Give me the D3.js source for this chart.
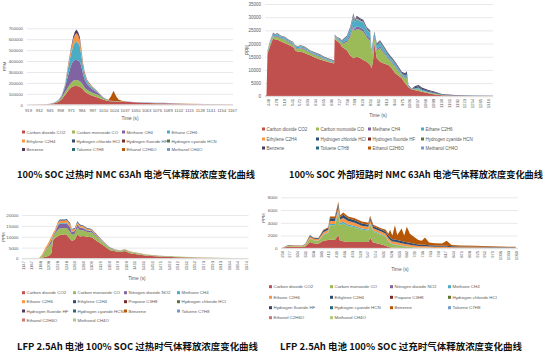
<!DOCTYPE html>
<html><head><meta charset="utf-8">
<script src="https://cdn.jsdelivr.net/npm/d3@7"></script>
<style>body{margin:0;background:#fff}svg{display:block}</style>
</head><body>
<svg id="c" width="550" height="354"></svg>
<script>
// ---------- shared ----------
const palette = ["#C0504D","#9BBB59","#8064A2","#4BACC6","#F79646","#2C4D75","#772C2A","#5F7530","#4D3B62","#276A7C","#B65708","#729ACA","#CD7371","#AFC97A"];
const namesNMC = ["Carbon dioxide CO2","Carbon monoxide CO","Methane CH4","Ethane C2H6","Ethylene C2H4","Hydrogen chloride HCl","Hydrogen fluoride HF","Hydrogen cyanide HCN","Benzene","Toluene C7H8","Ethanol C2H6O","Methanol CH4O"];
const namesLFP = ["Carbon dioxide CO2","Carbon monoxide CO","Nitrogen dioxide NO2","Methane CH4","Ethane C2H6","Ethylene C2H4","Propane C3H8","Hydrogen chloride HCl","Hydrogen fluoride HF","Hydrogen cyanide HCN","Benzene","Toluene C7H8","Ethanol C2H6O","Methanol CH4O"];

// ---------- chart 1 : NMC 63Ah overheating ----------
const c1XLabels = [919,932,945,958,971,984,997,1010,1024,1037,1050,1063,1076,1089,1102,1115,1128,1141,1154,1167];
const c1YTicks = [0,100000,200000,300000,400000,500000,600000,700000];
const c1Time = [915,930,940,946,951,956,960,964,968,971,974,976,978,980,982,984,986,988,991,995,998,1002,1006,1010,1014,1017,1020,1023,1026,1029,1033,1039,1047,1055,1065,1075,1085,1095,1107,1120,1135,1150,1168];
const c1CO2 = [400,1200,3000,6000,13000,25000,50000,90000,130000,155000,170000,172000,172000,170000,165000,155000,140000,120000,105000,90000,80000,70000,60000,48000,38000,33000,31000,30000,29000,28000,27000,26000,22000,18000,15000,14000,13000,11000,9500,7000,4800,3200,1600];
const c1CO = [50,150,500,1500,3500,8000,15000,25000,35000,42000,50000,52000,54000,52000,50000,46000,40000,34000,30000,28000,28000,26000,22000,12000,7000,4000,3000,2500,2500,2000,1800,1500,1200,1000,800,700,600,500,400,300,200,150,100];
const c1CH4 = [30,100,300,800,2000,6000,15000,45000,110000,160000,180000,185000,184000,182000,180000,145000,100000,75000,50000,38000,30000,22000,13000,7000,3000,2000,1500,1200,1000,900,800,700,600,500,400,300,300,200,200,150,100,50,50];
const c1C2H6 = [10,30,100,300,800,3000,6000,18000,70000,100000,140000,160000,168000,160000,140000,100000,60000,40000,25000,16000,12000,9000,6000,4000,2000,1200,800,600,500,400,400,300,300,200,200,150,150,100,100,80,50,30,20];
const c1C2H4 = [5,10,50,200,500,1000,3000,8000,25000,38000,60000,70000,78000,70000,60000,40000,25000,18000,10000,8000,6000,5000,3000,1500,1000,600,400,300,300,200,200,200,150,100,100,100,100,80,60,50,30,20,10];
const c1HCl = [], c1HF = [], c1HCN = [], c1Toluene = []; // ~0 throughout
const c1Benzene = [0,0,20,100,200,300,800,2000,10000,15000,25000,29000,34000,30000,25000,18000,15000,10000,6000,5000,4000,3000,1000,500,300,200,150,100,100,100,100,100,100,100,100,100,100,80,60,50,30,20,10];
const c1Ethanol = [0,0,0,0,0,0,0,0,0,0,0,0,0,0,0,0,0,0,0,0,0,0,0,0,0,4000,43000,93000,46000,16000,5000,1000,0,0,0,0,0,0,0,0,0,0,0];
const c1Methanol = [0,0,0,0,0,0,0,0,0,0,0,0,0,0,0,0,0,0,0,0,0,0,0,0,0,0,0,0,0,0,0,0,1500,2000,2500,3000,3000,2000,1500,1000,600,300,100];

// ---------- chart 2 : NMC 63Ah external short ----------
const c2XLabels = [448,479,510,541,572,603,634,665,696,727,758,789,820,851,882,913,944,975,1006,1037,1068,1099,1130,1161,1192,1223,1254,1285,1316];
const c2YTicks = [0,5000,10000,15000,20000,25000,30000,35000];
const c2Time = [436,442,446,456,468,476,484,500,515,527,540,547,555,566,574,585,594,614,630,653,670,685,705,709,711,720,732,739,759,772,785,791,798,811,824,838,851,857,863,868,877,890,903,923,936,950,976,989,996,1002,1015,1029,1042,1055,1081,1107,1134,1186,1265,1338];
const c2CO2 = [0,400,16000,19000,22000,21500,21500,20800,20100,19600,19000,18800,17500,16800,17000,16700,16300,15600,14800,14000,13500,13000,12500,12400,21800,21000,20000,18800,17500,15600,14400,14700,15000,14500,13750,13100,12000,10600,14000,20100,14400,13100,12500,11900,10600,8700,6800,4900,4200,3400,2600,2300,2000,1700,1200,700,400,200,100,50];
const c2CO = [0,20,350,850,900,800,1200,1000,1300,850,850,750,750,1050,1250,1350,1350,850,950,850,550,450,350,300,600,500,900,1050,3050,6900,11950,9900,10550,10700,10850,9200,9100,4550,5050,1950,2950,5250,4150,2200,2100,2300,800,1800,2800,200,50,350,700,350,270,220,80,50,40,20];
const c2CH4 = [0,20,300,300,350,300,350,300,300,300,300,300,300,300,300,300,300,250,250,250,200,200,200,200,250,250,300,400,600,800,1000,900,1000,900,900,800,800,500,600,500,500,600,500,400,400,400,300,300,400,100,50,100,150,100,50,50,20,10,10,10];
const c2C2H6 = [0,30,500,500,600,550,600,550,550,500,500,500,500,500,500,500,500,450,450,450,400,400,350,350,400,400,450,600,1200,2000,3000,2500,2800,2500,2500,2200,2200,1200,1500,1300,1300,1500,1400,1000,900,900,600,700,900,200,100,300,400,300,200,150,80,50,30,20];
const c2C2H4 = [0,10,100,100,100,100,100,100,100,100,100,100,100,100,100,100,100,100,100,100,100,100,100,100,100,100,100,100,150,200,250,200,250,200,200,200,200,150,150,150,150,150,150,100,100,100,100,100,100,50,20,50,50,50,30,30,20,10,10,10];
const c2HCl = [0,10,150,150,150,150,150,150,150,150,150,150,150,150,150,150,150,150,150,150,150,150,150,150,150,150,150,200,300,400,500,450,500,450,450,400,400,300,400,350,400,400,400,400,400,400,400,500,600,200,100,400,500,400,300,250,150,80,50,40];
const c2HF = [], c2HCN = [], c2Toluene = [], c2Ethanol = [], c2Methanol = []; // ~0
const c2Benzene = [0,10,100,100,100,100,100,100,100,100,100,100,100,100,100,100,100,100,100,100,100,100,100,100,100,100,100,150,200,300,400,350,400,350,350,300,300,200,300,250,300,300,300,300,300,300,300,400,500,150,80,400,500,400,350,300,150,100,60,50];

// ---------- chart 3 : LFP 2.5Ah overheating ----------
const c3XLabels = [1147,1167,1188,1208,1228,1248,1269,1289,1309,1329,1350,1370,1390,1411,1431,1451,1471,1492,1512,1532,1552,1573,1593,1613,1634,1654,1674];
const c3YTicks = [0,5000,10000,15000,20000];
const c3Time = [1148,1180,1186,1192,1200,1207,1211,1215,1218,1223,1231,1235,1247,1251,1259,1263,1270,1276,1282,1290,1299,1310,1318,1329,1341,1353,1365,1377,1388,1400,1416,1440,1471,1510,1565,1644,1679];
const c3CO2 = [0,30,50,200,800,1200,1600,2500,8000,9400,10400,10800,11200,10800,9000,8200,8600,11200,10100,10400,10000,9800,8600,7100,5500,3800,3300,3000,3400,2400,2000,1300,900,600,350,100,50];
const c3CO = [0,10,150,800,2500,4000,4500,4500,1800,2000,3000,3000,2800,3200,3200,2700,2800,3000,2900,2600,2200,2200,1900,1500,1100,900,500,500,600,600,400,350,300,300,120,80,40];
const c3NO2 = [0,0,0,100,300,500,900,1500,500,700,2000,2200,2000,2200,2000,1200,1200,1300,1100,900,700,600,400,300,200,150,100,100,150,100,50,50,30,20,10,0,0];
const c3CH4 = [0,0,0,0,100,100,200,200,100,150,300,300,300,300,300,200,200,200,200,200,200,200,150,100,100,100,50,50,50,30,20,10,10,10,0,0,0];
const c3C2H6 = [0,10,100,500,1000,1200,1400,1400,1100,1000,1100,1200,1200,1300,1400,1000,900,1000,900,800,600,500,500,300,200,150,100,100,150,150,100,80,50,30,20,10,5];
const c3C2H4 = [0,0,0,0,0,0,0,0,0,0,300,400,400,400,400,300,300,400,400,300,300,300,250,200,100,100,50,50,50,50,50,20,20,10,10,0,0];
const c3C3H8 = [], c3HCl = [], c3HF = [], c3HCN = [], c3Benzene = [], c3Toluene = [], c3Ethanol = [], c3Methanol = []; // ~0

// ---------- chart 4 : LFP 2.5Ah overcharge ----------
const c4XLabels = [250,277,304,331,358,385,412,439,466,493,520,547,574,601,628,655,682,709,736,763,790,817,844,871,898,925,952,979,1006,1033,1060];
const c4YTicks = [0,2000,4000,6000,8000];
const c4Time = [250,262,273,296,320,331,342,348,359,377,394,411,417,434,446,452,463,480,503,527,550,556,567,596,610,619,625,633,642,650,665,674,683,694,705,723,735,746,760,780,805,821,838,870,919,970,1034,1060];
const c4CO2 = [40,150,250,230,220,300,700,1000,800,700,1200,1300,1400,1300,2100,1200,1100,1000,1000,1000,1000,1600,900,600,400,200,150,100,100,80,60,50,50,40,30,20,20,20,15,15,10,10,10,10,10,10,10,10];
const c4CO = [10,60,120,110,100,150,400,500,450,450,900,1100,2200,2300,3300,2500,2800,2500,2300,1900,1800,2100,1700,1500,1400,900,700,500,450,400,300,250,200,150,100,60,50,50,40,30,30,30,20,20,20,10,10,10];
const c4NO2 = [];
const c4CH4 = [0,0,0,0,0,0,50,50,50,50,80,100,200,200,300,250,250,250,200,200,150,200,150,100,100,100,100,80,80,80,60,50,50,50,40,30,30,30,20,20,20,20,10,10,10,10,10,10];
const c4C2H6 = [10,50,80,80,70,100,250,300,230,220,350,400,500,500,700,550,600,550,500,450,450,500,400,400,400,400,400,400,400,400,380,350,350,330,300,250,230,230,200,180,170,170,140,120,110,90,70,70];
const c4C2H4 = [0,30,50,40,40,70,150,200,130,140,270,300,400,400,500,400,500,400,400,350,300,400,300,300,300,350,350,350,350,350,330,320,300,300,280,250,230,220,200,180,170,170,140,120,110,90,70,70];
const c4C3H8 = [], c4HCl = [], c4HF = [], c4HCN = [], c4Toluene = [], c4Ethanol = [], c4Methanol = [];
const c4Benzene = [0,10,20,20,20,30,50,50,40,40,100,100,300,300,400,300,350,300,300,300,300,300,250,200,300,350,1200,570,2220,790,1970,980,2450,1430,1150,690,640,1150,425,375,350,800,200,170,140,110,90,80];

// ---------- drawing ----------
const svg = d3.select("#c");
const FONT = "'Liberation Sans', Arial, sans-serif";
const GREY = "#595959";

function drawChart(o, id){
  const g = svg.append("g");
  const xs = d3.scaleLinear().domain([o.xLabels[0], o.xLabels[o.xLabels.length-1]]).range([o.lx0, o.lx1]);
  const xp = d3.scalePoint().domain(o.xLabels.map(String)).range([o.lx0, o.lx1]);
  const ys = d3.scaleLinear().domain([0, o.yTicks[o.yTicks.length-1]]).range([o.yBot, o.yTop]);

  // grid + y labels
  g.append("g").attr("transform", `translate(${o.x0},0)`)
    .call(d3.axisLeft(ys).tickValues(o.yTicks).tickSize(-(o.x1 - o.x0)).tickPadding(o.yPad).tickFormat(d3.format("d")))
    .call(a => {
      a.attr("font-family", FONT).attr("font-size", o.fs);
      a.select(".domain").remove();
      a.selectAll(".tick line").attr("stroke", "#d9d9d9").attr("stroke-width", 0.6);
      a.selectAll(".tick text").attr("fill", GREY);
    });

  // stacked areas
  const rows = o.time.map((t, i) => { const r = {t}; o.names.forEach((n, k) => { r[n] = (o.series[k][i] || 0); }); return r; });
  const stacked = d3.stack().keys(o.names)(rows);
  const area = d3.area().x(d => xs(d.data.t)).y0(d => ys(d[0])).y1(d => ys(d[1]));
  svg.append("clipPath").attr("id", id).append("rect")
    .attr("x", o.x0).attr("y", o.yTop - 5).attr("width", o.x1 - o.x0).attr("height", o.yBot - o.yTop + 5);
  g.append("g").attr("clip-path", `url(#${id})`).selectAll("path").data(stacked).join("path")
    .attr("fill", (d, i) => palette[i]).attr("d", area);

  // x axis
  g.append("line").attr("x1", o.x0).attr("x2", o.x1).attr("y1", o.yBot).attr("y2", o.yBot)
    .attr("stroke", "#d9d9d9").attr("stroke-width", 0.7);
  const xg = g.append("g").attr("transform", `translate(0,${o.yBot})`)
    .call(d3.axisBottom(xp).tickSize(0).tickPadding(o.xPad))
    .call(a => {
      a.attr("font-family", FONT).attr("font-size", o.fsx);
      a.select(".domain").remove();
      a.selectAll(".tick text").attr("fill", GREY);
    });
  if (o.rotate) {
    xg.selectAll(".tick text").attr("transform", "rotate(-90)").attr("x", -o.xPad).attr("y", 0)
      .attr("dy", "0.35em").attr("text-anchor", "end");
  }

  // axis titles
  g.append("text").attr("transform", `translate(${o.ppm[0]},${o.ppm[1]}) rotate(-90)`)
    .attr("text-anchor", "middle").attr("dy", "0.35em").attr("font-family", FONT).attr("font-size", o.fs)
    .attr("fill", GREY).text("PPM");
  g.append("text").attr("x", o.timeT[0]).attr("y", o.timeT[1]).attr("text-anchor", "middle").attr("dy", "0.35em")
    .attr("font-family", FONT).attr("font-size", o.fs + 0.4).attr("fill", GREY).text("Time (s)");

  // legend
  const lg = g.append("g").attr("font-family", FONT).attr("font-size", o.fs);
  o.names.forEach((n, i) => {
    const cx = o.legCols[i % o.legCols.length], cy = o.legRows[Math.floor(i / o.legCols.length)];
    lg.append("rect").attr("x", cx).attr("y", cy - 1.5).attr("width", 3).attr("height", 3).attr("fill", palette[i]);
    lg.append("text").attr("x", cx + 4.5).attr("y", cy).attr("dy", "0.35em").attr("fill", GREY).text(n);
  });

  // caption
  g.append("text").attr("x", o.cap[1]).attr("y", o.cap[3])
    .attr("textLength", o.cap[2]).attr("lengthAdjust", "spacingAndGlyphs")
    .attr("font-family", "'Noto Sans CJK SC', sans-serif").attr("font-size", 9.3)
    .attr("font-weight", 700).attr("fill", "#111").text(o.cap[0]);
}

drawChart({
  xLabels: c1XLabels, yTicks: c1YTicks, time: c1Time, names: namesNMC,
  series: [c1CO2,c1CO,c1CH4,c1C2H6,c1C2H4,c1HCl,c1HF,c1HCN,c1Benzene,c1Toluene,c1Ethanol,c1Methanol],
  x0: 27, x1: 233, lx0: 28, lx1: 232, yTop: 28.3, yBot: 104.7, yPad: 4, xPad: 4.5, rotate: false,
  fs: 4.3, fsx: 4.2, ppm: [4, 66.7], timeT: [130, 118.5],
  legCols: [22, 72, 122, 167], legRows: [132, 141, 149.5],
  cap: ["100% SOC 过热时 NMC 63Ah 电池气体释放浓度变化曲线", 17, 238, 178]
}, "clip1");

drawChart({
  xLabels: c2XLabels, yTicks: c2YTicks, time: c2Time, names: namesNMC,
  series: [c2CO2,c2CO,c2CH4,c2C2H6,c2C2H4,c2HCl,c2HF,c2HCN,c2Benzene,c2Toluene,c2Ethanol,c2Methanol],
  x0: 265, x1: 493, lx0: 268, lx1: 488, yTop: 4, yBot: 96.3, yPad: 4, xPad: 2.5, rotate: true,
  fs: 4.5, fsx: 4.3, ppm: [247, 50], timeT: [378, 115],
  legCols: [262, 316, 368, 421], legRows: [129, 139, 148],
  cap: ["100% SOC 外部短路时 NMC 63Ah 电池气体释放浓度变化曲线", 289, 254, 178]
}, "clip2");

drawChart({
  xLabels: c3XLabels, yTicks: c3YTicks, time: c3Time, names: namesLFP,
  series: [c3CO2,c3CO,c3NO2,c3CH4,c3C2H6,c3C2H4,c3C3H8,c3HCl,c3HF,c3HCN,c3Benzene,c3Toluene,c3Ethanol,c3Methanol],
  x0: 22, x1: 248.5, lx0: 22.7, lx1: 246, yTop: 215, yBot: 258.5, yPad: 3.5, xPad: 2.5, rotate: true,
  fs: 4.4, fsx: 4.2, ppm: [3, 237], timeT: [137, 278],
  legCols: [22, 73, 124, 177], legRows: [292.7, 301.7, 311, 320],
  cap: ["LFP 2.5Ah 电池 100% SOC 过热时气体释放浓度变化曲线", 17, 241, 349.5]
}, "clip3");

drawChart({
  xLabels: c4XLabels, yTicks: c4YTicks, time: c4Time, names: namesLFP,
  series: [c4CO2,c4CO,c4NO2,c4CH4,c4C2H6,c4C2H4,c4C3H8,c4HCl,c4HF,c4HCN,c4Benzene,c4Toluene,c4Ethanol,c4Methanol],
  x0: 281, x1: 518, lx0: 281.7, lx1: 515.7, yTop: 197.3, yBot: 248.3, yPad: 3.5, xPad: 2.5, rotate: true,
  fs: 4.4, fsx: 4.2, ppm: [263, 218], timeT: [400, 269.5],
  legCols: [269, 330, 390, 448], legRows: [286.7, 297.3, 307.7, 317.7],
  cap: ["LFP 2.5Ah 电池 100% SOC 过充时气体释放浓度变化曲线", 280, 242, 349.5]
}, "clip4");
</script>
</body></html>
